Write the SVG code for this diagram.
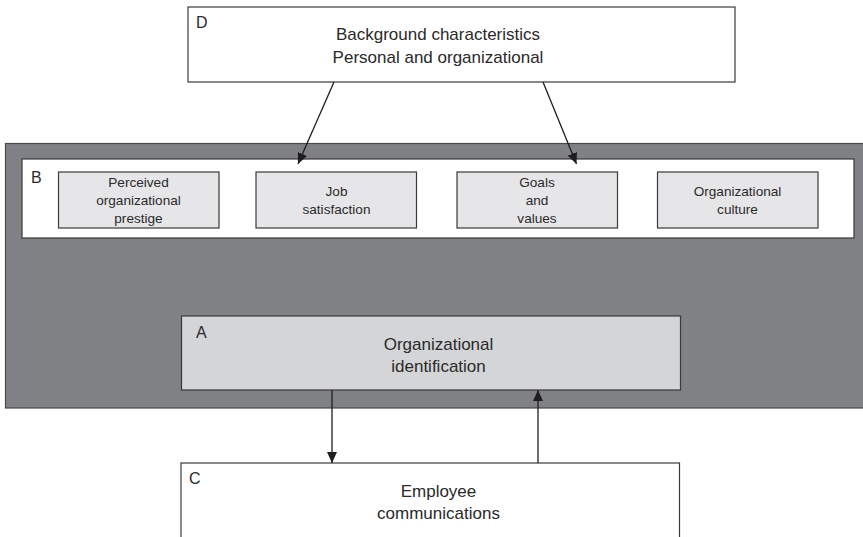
<svg xmlns="http://www.w3.org/2000/svg" width="863" height="537" viewBox="0 0 863 537">
<defs>
<style>
text{font-family:"Liberation Sans",Arial,sans-serif;fill:#2a2a2a}
.big{font-size:17px;text-anchor:middle}
.sm{font-size:13.6px;text-anchor:middle}
.lbl{font-size:16px}
.box{stroke:#3a3a3a;stroke-width:1.2}
.conn{stroke:#1e1e1e;stroke-width:1.3;fill:none;marker-end:url(#ah)}
</style>
<marker id="ah" markerUnits="userSpaceOnUse" markerWidth="11" markerHeight="10" refX="11" refY="5" orient="auto">
<path d="M0,0 L11,5 L0,10 z" fill="#1e1e1e"/>
</marker>
</defs>
<rect width="863" height="537" fill="#ffffff"/>
<g id="panel">
<rect x="5.5" y="143.5" width="860" height="264.5" fill="#808185" stroke="#4a4a4a" stroke-width="1.2"/>
</g>
<g id="B">
<rect class="box" x="22" y="159" width="832" height="79" fill="#ffffff"/>
<text class="lbl" x="31" y="183">B</text>
</g>
<g id="B1">
<rect class="box" x="58.5" y="172" width="160.5" height="56" fill="#e6e6e8"/>
<text class="sm" x="138.5" y="186.5">Perceived</text>
<text class="sm" x="138.5" y="204.5">organizational</text>
<text class="sm" x="138.5" y="222.5">prestige</text>
</g>
<g id="B2">
<rect class="box" x="256" y="172" width="160.5" height="56" fill="#e6e6e8"/>
<text class="sm" x="336.5" y="195.5">Job</text>
<text class="sm" x="336.5" y="213.5">satisfaction</text>
</g>
<g id="B3">
<rect class="box" x="457" y="172" width="160.5" height="56" fill="#e6e6e8"/>
<text class="sm" x="537" y="186.5">Goals</text>
<text class="sm" x="537" y="204.5">and</text>
<text class="sm" x="537" y="222.5">values</text>
</g>
<g id="B4">
<rect class="box" x="657.5" y="172" width="160.5" height="56" fill="#e6e6e8"/>
<text class="sm" x="737.5" y="195.5">Organizational</text>
<text class="sm" x="737.5" y="213.5">culture</text>
</g>
<g id="D">
<rect class="box" x="188" y="7" width="547" height="75" fill="#ffffff"/>
<text class="lbl" x="196" y="28">D</text>
<text class="big" x="438" y="40">Background characteristics</text>
<text class="big" x="438" y="63">Personal and organizational</text>
</g>
<g id="A">
<rect class="box" x="181.5" y="316" width="499" height="74" fill="#d4d5d7"/>
<text class="lbl" x="196" y="338">A</text>
<text class="big" x="438.5" y="350">Organizational</text>
<text class="big" x="438.5" y="372">identification</text>
</g>
<g id="C">
<rect class="box" x="181" y="463" width="498.5" height="80" fill="#ffffff"/>
<text class="lbl" x="189" y="484">C</text>
<text class="big" x="438.5" y="497">Employee</text>
<text class="big" x="438.5" y="519">communications</text>
</g>
<g id="connectors">
<line class="conn" x1="334" y1="82" x2="298" y2="164"/>
<line class="conn" x1="543" y1="82" x2="576.5" y2="164"/>
<line class="conn" x1="332" y1="390" x2="332" y2="463"/>
<line class="conn" x1="538" y1="463" x2="538" y2="390"/>
</g>
</svg>
